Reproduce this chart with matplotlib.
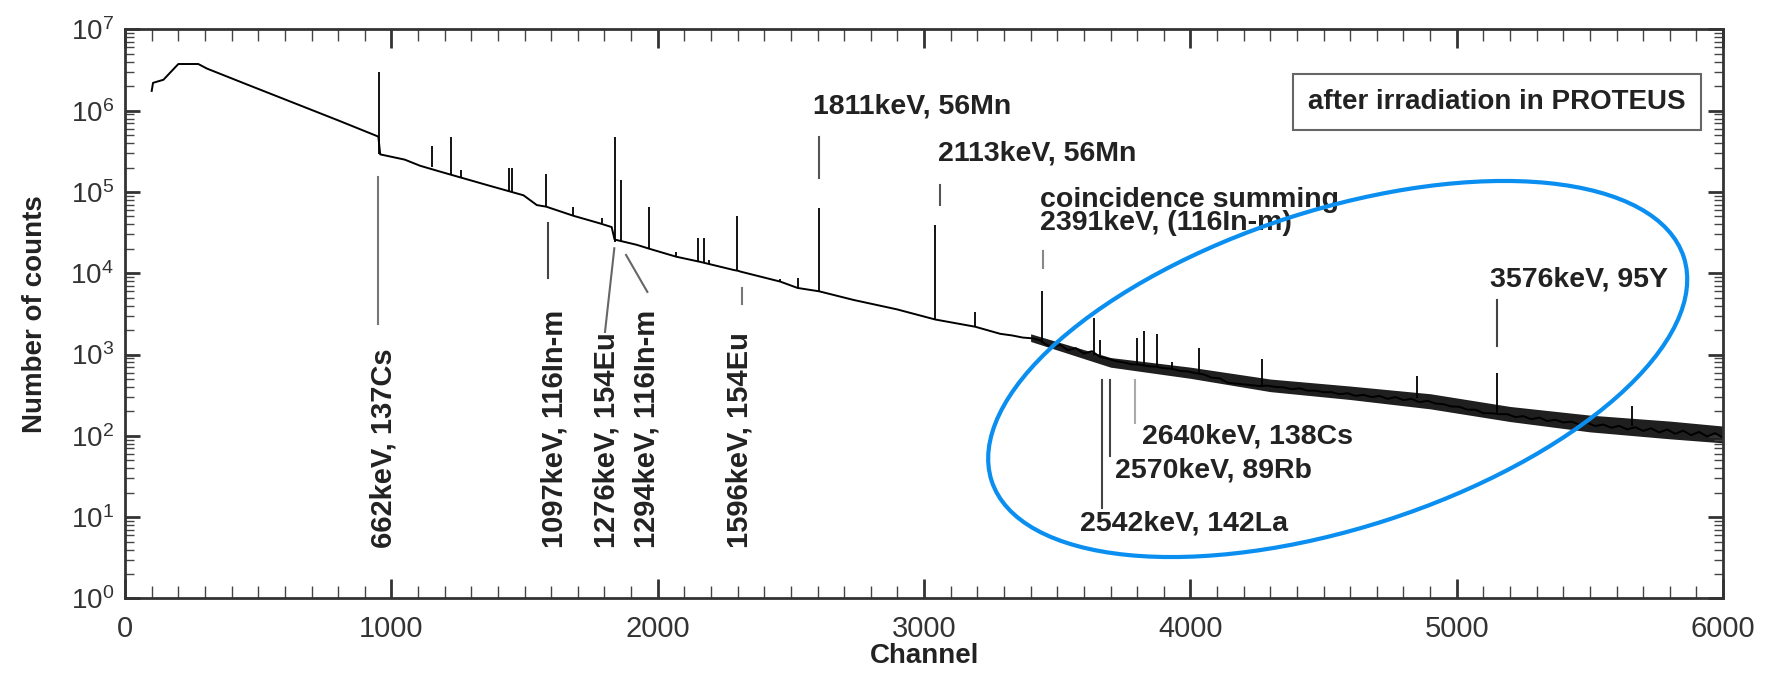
import math
import matplotlib
matplotlib.use("Agg")
import matplotlib.pyplot as plt
from matplotlib.patches import Ellipse
from matplotlib.ticker import LogLocator, MultipleLocator, FuncFormatter, NullFormatter

plt.rcParams['font.family'] = ['Liberation Sans', 'DejaVu Sans']
plt.rcParams['mathtext.fontset'] = 'custom'
plt.rcParams['mathtext.rm'] = 'Liberation Sans'
plt.rcParams['mathtext.it'] = 'Liberation Sans'

# continuum of the gamma spectrum (channel, counts)
cont_ch = [100, 105, 144, 200, 275, 307, 450, 607, 800, 951, 958, 1050, 1108, 1183, 1358, 1496,
           1546, 1581, 1683, 1784, 1827, 1838, 1871, 1921, 1969, 2069, 2160, 2284, 2303, 2310,
           2460, 2525, 2606, 2735, 2898, 3042, 3192, 3286, 3330, 3370, 3410, 3436,
           3450, 3480, 3510, 3540, 3570, 3600, 3630, 3660, 3690, 3720, 3750, 3780, 3810, 3840,
           3870, 3900, 3930, 3960, 3990, 4020, 4050, 4080, 4110, 4140, 4170, 4200, 4230, 4260,
           4290, 4320, 4350, 4380, 4410, 4440, 4470, 4500, 4530, 4560, 4590, 4620, 4650, 4680,
           4710, 4740, 4770, 4800, 4830, 4860, 4890, 4920, 4950, 4980, 5010, 5040, 5070, 5100,
           5130, 5160, 5190, 5220, 5250, 5280, 5310, 5340, 5370, 5400, 5430, 5460, 5490, 5520,
           5550, 5580, 5610, 5640, 5670, 5700, 5730, 5760, 5790, 5820, 5850, 5880, 5910, 5940,
           5970, 6000]
cont_counts = [1.75e6, 2.2e6, 2.4e6, 3.75e6, 3.75e6, 3.3e6, 2.15e6, 1.35e6, 7.6e5, 4.8e5, 2.9e5,
               2.5e5, 2.1e5, 1.78e5, 1.22e5, 9.1e4, 6.9e4, 6.6e4, 5.1e4, 4.1e4, 3.7e4, 2.6e4,
               2.45e4, 2.24e4, 2.0e4, 1.6e4, 1.38e4, 1.1e4, 1.07e4, 1.05e4, 7.9e3, 6.6e3, 6.0e3,
               4.7e3, 3.6e3, 2.7e3, 2.2e3, 1.8e3, 1.72e3, 1.62e3, 1.58e3, 1.5e3,
               1380, 1230, 1320, 1130, 1200, 1030, 1100, 940, 890, 830, 800, 760, 750, 720,
               710, 680, 670, 630, 620, 590, 570, 520, 510, 450, 440, 430, 420, 410,
               415, 400, 395, 375, 385, 360, 360, 345, 345, 325, 335, 310, 320, 300,
               310, 285, 300, 275, 285, 260, 270, 250, 245, 230, 228, 210, 210, 190,
               190, 185, 185, 170, 175, 160, 168, 152, 158, 146, 150, 138, 145, 132,
               138, 126, 133, 120, 128, 115, 124, 110, 120, 106, 116, 102, 112, 98,
               108, 95]

# noise band of the high-channel part
band_ch = [3400, 3700, 4000, 4300, 4600, 4900, 5200, 5500, 5800, 6000]
band_lo = [1450, 700, 510, 350, 280, 215, 150, 112, 92, 82]
band_hi = [1800, 920, 700, 500, 410, 330, 230, 180, 152, 132]

# photo peaks (channel, base counts, top counts)
peak_ch = [955, 1152, 1223, 1262, 1440, 1452, 1581, 1683, 1790, 1838, 1863, 1969, 2069, 2153,
           2172, 2193, 2297, 2460, 2525, 2606, 3042, 3192, 3442, 3639, 3660, 3799, 3827, 3874,
           3930, 4034, 4268, 4850, 5151, 5658]
peak_base = [2.9e5, 2.05e5, 1.62e5, 1.55e5, 1.0e5, 1.0e5, 6.6e4, 5.1e4, 4.1e4, 2.45e4, 2.45e4,
             2.0e4, 1.6e4, 1.38e4, 1.38e4, 1.3e4, 1.1e4, 7.9e3, 6.6e3, 6.0e3, 2.7e3, 2.2e3,
             1.38e3, 1.0e3, 1.0e3, 760, 740, 700, 650, 580, 420, 290, 190, 133]
peak_top = [3.0e6, 3.7e5, 4.8e5, 1.87e5, 1.96e5, 1.96e5, 1.65e5, 6.6e4, 4.8e4, 4.8e5, 1.4e5,
            6.6e4, 1.85e4, 2.7e4, 2.7e4, 1.45e4, 5.1e4, 8.6e3, 8.7e3, 6.3e4, 3.9e4, 3.3e3,
            6.0e3, 2.8e3, 1.5e3, 1.6e3, 1.95e3, 1.8e3, 800, 1.2e3, 890, 540, 590, 235]

# peak identification labels
hlabels = ["1811keV, 56Mn", "2113keV, 56Mn", "coincidence summing", "2391keV, (116In-m)",
           "3576keV, 95Y", "2640keV, 138Cs", "2570keV, 89Rb", "2542keV, 142La"]
hlabel_ch = [2582, 3054, 3436, 3436, 5126, 3818, 3718, 3586]
hlabel_counts = [1.12e6, 3.0e5, 7.9e4, 4.1e4, 8.3e3, 99, 38, 8.4]

vlabels = ["662keV, 137Cs", "1097keV, 116In-m", "1276keV, 154Eu", "1294keV, 116In-m",
           "1596keV, 154Eu"]
vlabel_ch = [969, 1612, 1808, 1958, 2308]
vlabel_counts = 4.2

# marker lines from labels to peaks (ch0, counts0, ch1, counts1)
mark_ch0 = [951, 1587, 1837, 1881, 2316, 2604, 3058, 3447, 5151, 3793, 3699, 3668]
mark_c0 = [1.55e5, 4.1e4, 2.03e4, 1.68e4, 6.6e3, 4.8e5, 1.22e5, 1.86e4, 4.7e3, 490, 490, 490]
mark_ch1 = [951, 1587, 1802, 1961, 2316, 2604, 3058, 3447, 5151, 3793, 3699, 3668]
mark_c1 = [2.4e3, 8.7e3, 1.9e3, 5.9e3, 4.2e3, 1.48e5, 6.9e4, 1.15e4, 1.27e3, 142, 56, 13]
mark_col = ['#777', '#444', '#666', '#666', '#777', '#555', '#555', '#888', '#444', '#aaa', '#444', '#444']


fig = plt.figure(figsize=(17.74, 6.77), dpi=100)
ax = fig.add_axes([0.0705, 0.116, 0.9008, 0.8406])

ax.fill_between(band_ch, band_lo, band_hi, color='black', lw=0, alpha=0.88)
ax.plot(cont_ch, cont_counts, color='black', lw=1.4)
ax.vlines(peak_ch, peak_base, peak_top, color='black', lw=1.3)

for i in range(len(mark_ch0)):
    ax.plot([mark_ch0[i], mark_ch1[i]], [mark_c0[i], mark_c1[i]], color=mark_col[i], lw=1.5)

for txt, x, y in zip(hlabels, hlabel_ch, hlabel_counts):
    ax.text(x, y, txt, fontsize=20.5, fontweight='bold', color='#222', ha='left', va='center')

for txt, x in zip(vlabels, vlabel_ch):
    ax.text(x, vlabel_counts, txt, fontsize=21, fontweight='bold', color='#222',
            rotation=90, ha='center', va='bottom')

ax.text(0.8586, 0.8724, "after irradiation in PROTEUS", transform=ax.transAxes,
        fontsize=20, fontweight='bold', color='#222', ha='center', va='center',
        bbox=dict(boxstyle='square,pad=0.55', fc='white', ec='#666', lw=1.5))

ax.set_yscale('log')
ax.set_xlim(0, 6000)
ax.set_ylim(1, 1e7)

ax.xaxis.set_major_locator(MultipleLocator(1000))
ax.xaxis.set_minor_locator(MultipleLocator(100))
ax.yaxis.set_major_locator(LogLocator(base=10, numticks=10))
ax.yaxis.set_minor_locator(LogLocator(base=10, subs=range(2, 10), numticks=20))
ax.yaxis.set_minor_formatter(NullFormatter())
ax.yaxis.set_major_formatter(FuncFormatter(lambda v, p: r'$\mathregular{10^{%d}}$' % round(math.log10(v))))

ax.tick_params(axis='x', which='major', direction='in', length=14, width=2, top=True,
               labelsize=21, pad=12, colors='#333')
ax.tick_params(axis='x', which='minor', direction='in', length=8.5, width=1, top=True, color='#444')
ax.tick_params(axis='y', which='major', direction='in', length=11, width=2, right=True,
               labelsize=20, pad=8, colors='#333')
ax.tick_params(axis='y', which='minor', direction='in', length=6.5, width=1, right=True, color='#444')

for s in ax.spines.values():
    s.set_linewidth(2)
    s.set_color('#333')

ax.set_xlabel("Channel", fontsize=20, fontweight='bold', color='#222', labelpad=0)
ax.set_ylabel("Number of counts", fontsize=20, fontweight='bold', color='#222', labelpad=16)

# highlight ellipse around the fission product peaks
ell = Ellipse((13.377, 3.08), 7.274, 3.178, angle=17.9, transform=fig.dpi_scale_trans,
              fill=False, ec='#0a8ff0', lw=3, clip_on=False, zorder=10)
fig.patches.append(ell)

fig.savefig("out.png", dpi=100)
